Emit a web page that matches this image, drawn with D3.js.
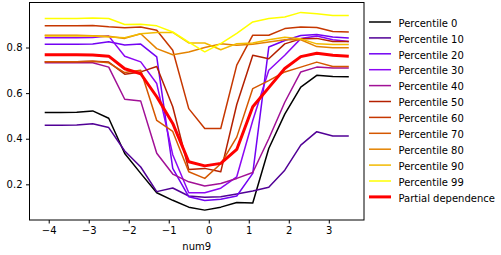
<!DOCTYPE html>
<html>
<head>
<meta charset="utf-8">
<script src="https://cdn.jsdelivr.net/npm/d3@7"></script>
<style>
  body { margin: 0; background: #fff; }
  text { font-family: "DejaVu Sans", sans-serif; font-size: 10px; fill: #000; }
</style>
</head>
<body>
<div id="chart"></div>
<script>
// grid of num9 values
const gridX = [-4.1, -3.7, -3.3, -2.9, -2.5, -2.1, -1.7, -1.3, -0.9, -0.5,
               -0.1, 0.3, 0.7, 1.1, 1.5, 1.9, 2.3, 2.7, 3.1, 3.5];

const p0  = [0.515, 0.515, 0.516, 0.522, 0.490, 0.335, 0.248, 0.163, 0.130, 0.100, 0.087, 0.100, 0.120, 0.118, 0.357, 0.508, 0.626, 0.678, 0.673, 0.672];
const p10 = [0.459, 0.459, 0.460, 0.466, 0.449, 0.346, 0.276, 0.168, 0.184, 0.149, 0.143, 0.146, 0.158, 0.171, 0.187, 0.262, 0.372, 0.431, 0.412, 0.412];
const p20 = [0.814, 0.814, 0.814, 0.815, 0.825, 0.811, 0.815, 0.759, 0.270, 0.146, 0.129, 0.135, 0.149, 0.248, 0.802, 0.831, 0.853, 0.857, 0.846, 0.842];
const p30 = [0.843, 0.843, 0.843, 0.844, 0.850, 0.762, 0.737, 0.642, 0.330, 0.163, 0.163, 0.183, 0.233, 0.480, 0.700, 0.766, 0.839, 0.850, 0.834, 0.826];
const p40 = [0.733, 0.733, 0.733, 0.733, 0.714, 0.573, 0.565, 0.336, 0.245, 0.211, 0.193, 0.204, 0.226, 0.252, 0.400, 0.560, 0.693, 0.714, 0.710, 0.710];
const p50 = [0.738, 0.738, 0.738, 0.740, 0.736, 0.683, 0.693, 0.717, 0.540, 0.265, 0.270, 0.255, 0.550, 0.766, 0.751, 0.816, 0.838, 0.840, 0.826, 0.826];
const p60 = [0.895, 0.895, 0.895, 0.897, 0.891, 0.887, 0.890, 0.876, 0.788, 0.532, 0.445, 0.445, 0.723, 0.854, 0.854, 0.883, 0.890, 0.888, 0.870, 0.868];
const p70 = [0.738, 0.738, 0.738, 0.740, 0.733, 0.690, 0.700, 0.480, 0.432, 0.255, 0.226, 0.290, 0.407, 0.620, 0.655, 0.693, 0.714, 0.736, 0.717, 0.717];
const p80 = [0.854, 0.854, 0.854, 0.852, 0.849, 0.840, 0.860, 0.795, 0.768, 0.780, 0.800, 0.816, 0.810, 0.814, 0.824, 0.834, 0.834, 0.804, 0.799, 0.799];
const p90 = [0.850, 0.850, 0.850, 0.850, 0.846, 0.843, 0.860, 0.866, 0.866, 0.820, 0.820, 0.790, 0.817, 0.820, 0.834, 0.845, 0.838, 0.816, 0.813, 0.813];
const p99 = [0.927, 0.927, 0.927, 0.929, 0.927, 0.901, 0.902, 0.895, 0.868, 0.824, 0.781, 0.817, 0.862, 0.912, 0.927, 0.934, 0.954, 0.948, 0.940, 0.940];
const partialDep = [0.768, 0.768, 0.768, 0.767, 0.762, 0.707, 0.685, 0.584, 0.467, 0.299, 0.281, 0.292, 0.353, 0.540, 0.624, 0.708, 0.760, 0.775, 0.766, 0.762];

const percentiles = [0, 10, 20, 30, 40, 50, 60, 70, 80, 90, 99];
const percentileValues = [p0, p10, p20, p30, p40, p50, p60, p70, p80, p90, p99];
// gnuplot colormap, sampled at 0, 0.1 ... 1
const percentileColors = ["#000000", "#510096", "#7202f3", "#8c07f3", "#a11096", "#b42000",
                          "#c63700", "#d55700", "#e48300", "#f2ba00", "#ffff00"];

const yTicks = [0.2, 0.4, 0.6, 0.8];
const xTicks = [-4, -3, -2, -1, 0, 1, 2, 3];

function drawChart(container) {
    const width = 501, height = 255;
    const plot = {left: 29.5, right: 364, top: 2.5, bottom: 220};

    const svg = d3.select(container).append('svg')
        .attr('width', width)
        .attr('height', height);

    // matplotlib style 5% margins on both axes
    const allY = percentileValues.flat().concat(partialDep);
    const [xmin, xmax] = d3.extent(gridX);
    const [ymin, ymax] = d3.extent(allY);
    const xPad = (xmax - xmin) * 0.05, yPad = (ymax - ymin) * 0.05;

    const x = d3.scaleLinear()
        .domain([xmin - xPad, xmax + xPad])
        .range([plot.left, plot.right]);
    const y = d3.scaleLinear()
        .domain([ymin - yPad, ymax + yPad])
        .range([plot.bottom, plot.top]);

    const line = d3.line()
        .x((d, i) => x(gridX[i]))
        .y(d => y(d));

    const lines = svg.append('g').classed('lines', true);

    lines.selectAll('path.ice')
        .data(percentileValues)
        .enter().append('path')
        .classed('ice', true)
        .attr('d', d => line(d))
        .attr('fill', 'none')
        .attr('stroke', (d, i) => percentileColors[i])
        .attr('stroke-width', 1.5)
        .attr('stroke-linejoin', 'round');

    lines.append('path')
        .attr('d', line(partialDep))
        .attr('fill', 'none')
        .attr('stroke', '#ff0000')
        .attr('stroke-width', 3)
        .attr('stroke-linejoin', 'round');

    // axes
    const xAxis = d3.axisBottom(x)
        .tickValues(xTicks)
        .tickSize(3.5)
        .tickPadding(3.5)
        .tickFormat(d => d3.format("d")(d).replace('-', '\u2212'));
    const yAxis = d3.axisLeft(y)
        .tickValues(yTicks)
        .tickSize(3.5)
        .tickPadding(3.5)
        .tickFormat(d3.format(".1f"));

    const gx = svg.append('g')
        .attr('transform', `translate(0,${plot.bottom})`)
        .call(xAxis);
    const gy = svg.append('g')
        .attr('transform', `translate(${plot.left},0)`)
        .call(yAxis);

    [gx, gy].forEach(g => {
        g.select('.domain').remove();
        g.selectAll('.tick line').attr('stroke', '#000').attr('stroke-width', 1);
        g.selectAll('.tick text')
            .attr('fill', '#000')
            .style('font-family', '"DejaVu Sans", sans-serif')
            .style('font-size', '10px');
    });

    // frame
    svg.append('rect')
        .attr('x', plot.left)
        .attr('y', plot.top)
        .attr('width', plot.right - plot.left)
        .attr('height', plot.bottom - plot.top)
        .attr('fill', 'none')
        .attr('stroke', '#000')
        .attr('stroke-width', 1);

    svg.append('text')
        .attr('x', (plot.left + plot.right) / 2)
        .attr('y', 250)
        .attr('text-anchor', 'middle')
        .text('num9');

    // legend
    const legendItems = percentiles.map((p, i) => ({label: `Percentile ${p}`, color: percentileColors[i], w: 1.5}))
        .concat([{label: 'Partial dependence', color: '#ff0000', w: 3}]);

    const legend = svg.append('g').attr('transform', 'translate(369,23.5)');
    const rows = legend.selectAll('g')
        .data(legendItems)
        .enter().append('g')
        .attr('transform', (d, i) => `translate(0,${i * 15.9})`);

    rows.append('line')
        .attr('x1', 0).attr('x2', 22)
        .attr('y1', -1.5).attr('y2', -1.5)
        .attr('stroke', d => d.color)
        .attr('stroke-width', d => d.w);

    rows.append('text')
        .attr('x', 29.5)
        .attr('dy', '0.32em')
        .text(d => d.label);
}

drawChart('#chart');
</script>
</body>
</html>
